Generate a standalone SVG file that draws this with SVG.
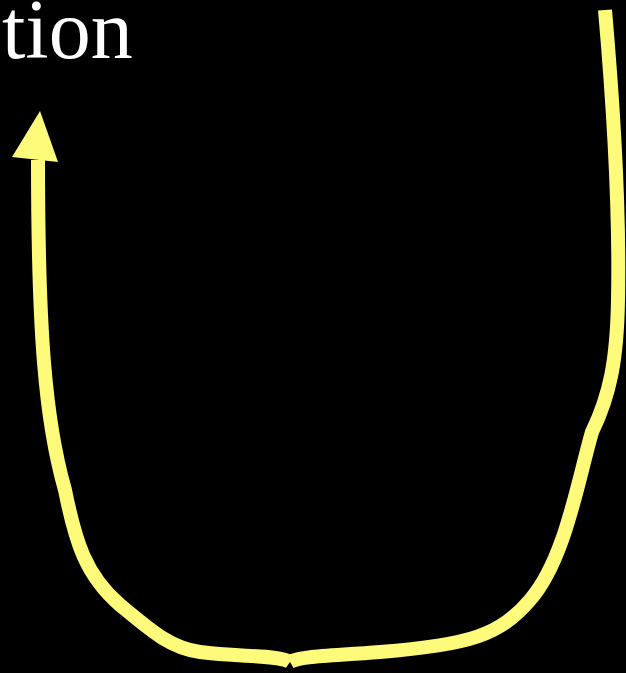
<svg xmlns="http://www.w3.org/2000/svg" width="626" height="673" viewBox="0 0 626 673">
<style>
.c{fill:none;stroke:#FFFB7A;stroke-width:14;stroke-linejoin:round}
.t{font-family:"Liberation Serif",serif;fill:#fff}
</style>
<rect width="626" height="673" fill="#000"/>
<g id="label"><text class="t" x="2" y="58" font-size="84">tion</text></g>
<g id="connectors">
<path class="c" d="M605,10 C612,90 620,200 618,300 C617,360 610,395 592,432 C578,480 565,560 530,600 C500,635 470,645 380,652 C330,656 300,656 290,662"/>
<path class="c" d="M290,662 C280,655 240,657 200,652 C170,648 150,630 120,605 C85,575 75,540 65,490 C45,420 38,330 38,160"/>
<polygon fill="#FFFB7A" points="40,111 58,162 12,157"/>
</g>
</svg>
